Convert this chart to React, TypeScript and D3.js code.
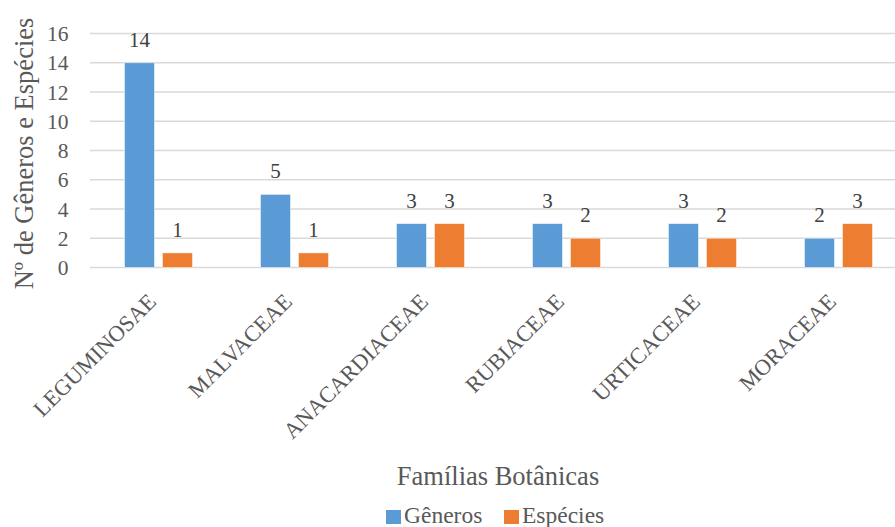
import React from "react";
import * as d3 from "d3";

const categories = ["LEGUMINOSAE", "MALVACEAE", "ANACARDIACEAE", "RUBIACEAE", "URTICACEAE", "MORACEAE"];
const generos = [14, 5, 3, 3, 3, 2];
const especies = [1, 1, 3, 2, 2, 3];
const seriesNames = ["Gêneros", "Espécies"];
const yTicks = [0, 2, 4, 6, 8, 10, 12, 14, 16];

const W = 895;
const H = 527;
const COLORS = ["#5B9BD5", "#ED7D31"];
const TEXT = "#595959";
const FONT = "Liberation Serif";

export default function App() {
  const x = d3.scaleBand<string>().domain(categories).range([90.5, 906.5]).paddingInner(0).paddingOuter(0);
  const bw = x.bandwidth();
  const inner = d3
    .scaleBand<string>()
    .domain(seriesNames)
    .range([bw / 2 - 34, bw / 2 + 34])
    .paddingInner(8 / 38);
  const y = d3.scaleLinear().domain([0, 16]).range([267.5, 33.5]);
  const series = [generos, especies];
  const font = { fontFamily: FONT };

  return (
    <svg width={W} height={H} style={{ position: "absolute", left: 0, top: 0, background: "#fff" }}>
      <rect width={W} height={H} fill="#fff" />
      {/* gridlines */}
      {yTicks.map((t) => (
        <line key={t} x1={90} x2={W} y1={y(t)} y2={y(t)} stroke="#D9D9D9" strokeWidth={1.4} />
      ))}
      {/* y tick labels */}
      {yTicks.map((t) => (
        <text key={"t" + t} x={68.5} y={y(t)} dy="0.35em" textAnchor="end" fontSize={21.5} fill={TEXT} style={font}>
          {t}
        </text>
      ))}
      {/* bars and value labels */}
      {categories.map((c, i) => (
        <g key={c} transform={`translate(${x(c)},0)`}>
          {series.map((vals, s) => {
            const bx = inner(seriesNames[s])!;
            const v = vals[i];
            return (
              <g key={s}>
                <rect
                  x={bx}
                  y={y(v)}
                  width={inner.bandwidth()}
                  height={y(0) - y(v)}
                  fill={COLORS[s]}
                  stroke="#fff"
                  strokeOpacity={0.6}
                  strokeWidth={0.8}
                />
                <text x={bx + inner.bandwidth() / 2} y={y(v) - 16} textAnchor="middle" fontSize={21} fill="#404040" style={font}>
                  {v}
                </text>
              </g>
            );
          })}
          <text
            transform={`translate(${bw / 2 - 1},${303}) rotate(-45)`}
            textAnchor="end"
            fontSize={22.5}
            fill={TEXT}
            style={font}
          >
            {c}
          </text>
        </g>
      ))}
      {/* axis titles */}
      <text transform={`translate(33,153.5) rotate(-90)`} textAnchor="middle" fontSize={26.5} fill={TEXT} style={font}>
        Nº de Gêneros e Espécies
      </text>
      <text x={498} y={485} textAnchor="middle" fontSize={26.5} fill={TEXT} style={font}>
        Famílias Botânicas
      </text>
      {/* legend */}
      {seriesNames.map((n, s) => {
        const lx = s === 0 ? 386 : 504;
        return (
          <g key={n}>
            <rect x={lx} y={510} width={15} height={14} fill={COLORS[s]} />
            <text x={lx + 18} y={523} fontSize={23.5} fill={TEXT} style={font}>
              {n}
            </text>
          </g>
        );
      })}
    </svg>
  );
}
